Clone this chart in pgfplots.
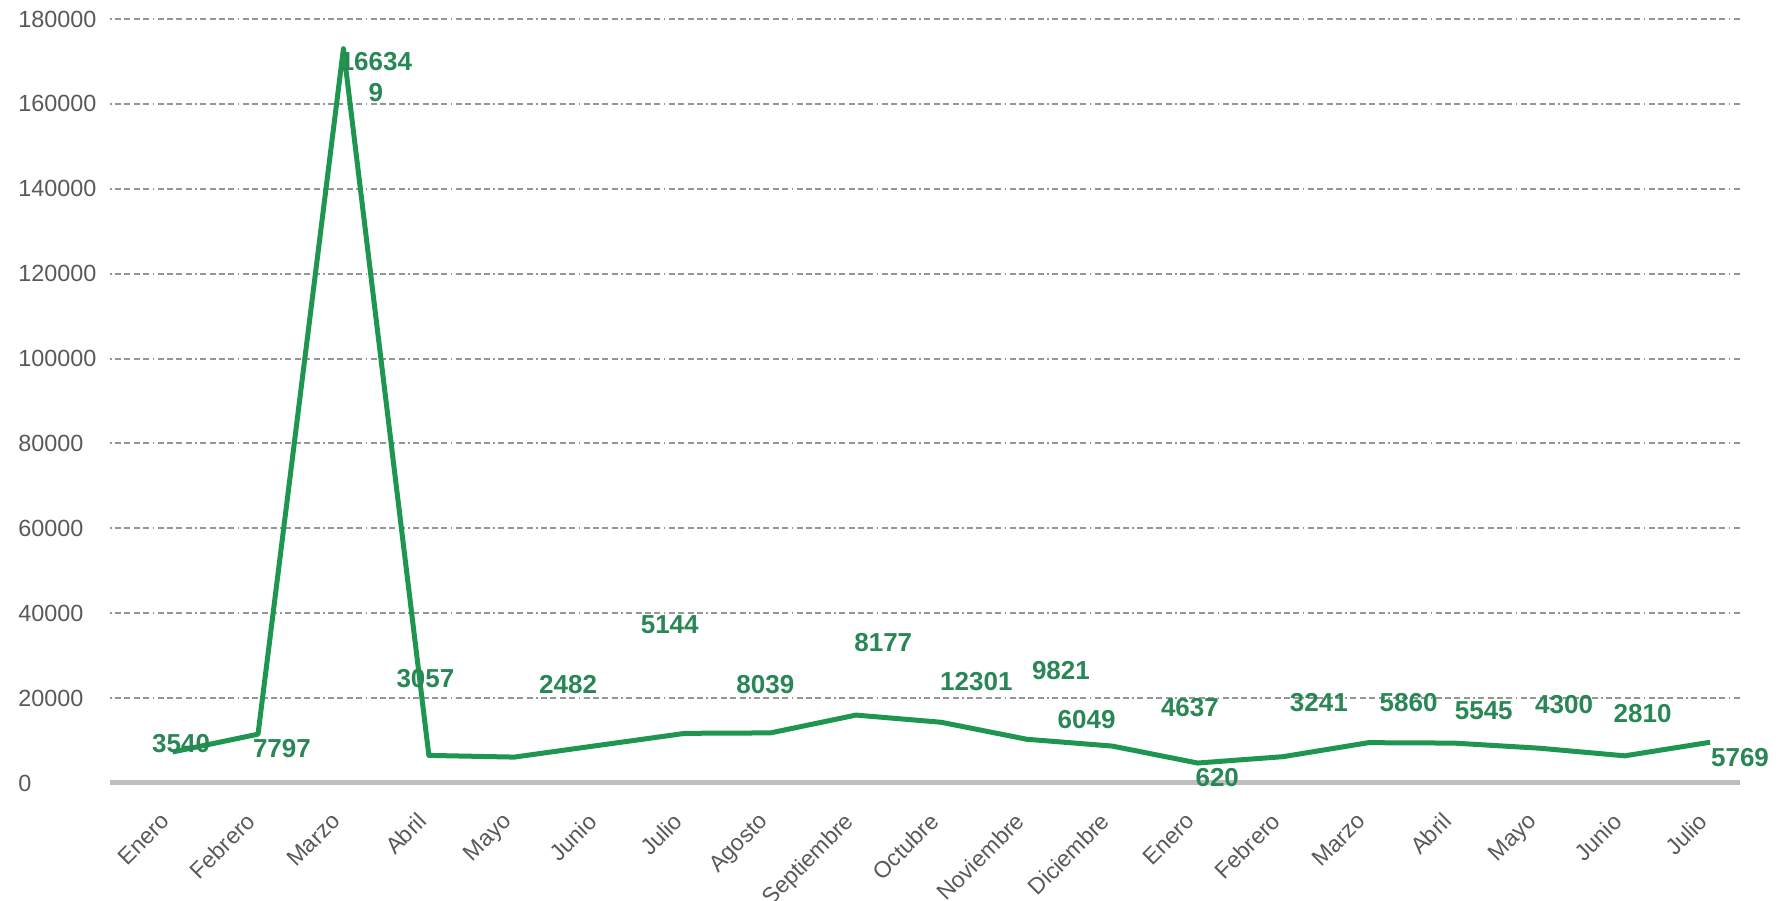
\documentclass[border=0pt]{standalone}
\usepackage{pgfplots}
\pgfplotsset{compat=1.18}
\usepackage{pgfplotstable}
\usepackage{fontspec}
\setmainfont{Liberation Sans}
\definecolor{linegreen}{RGB}{30,150,80}
\definecolor{labgreen}{RGB}{40,135,85}
\definecolor{ticktext}{RGB}{89,89,89}
\definecolor{gridgray}{RGB}{150,150,150}
\definecolor{axisgray}{RGB}{190,190,190}

\pgfplotstableread{
x y
0 7300
1 11500
2 173000
3 6500
4 6100
5 8900
6 11700
7 11800
8 16000
9 14300
10 10300
11 8700
12 4700
13 6200
14 9500
15 9400
16 8200
17 6400
18 9600
}\linedata

\pgfplotstableread{
x y lab
0.10 9400 3540
1.28 8000 7797
2.38 170000 16634
2.38 162700 9
2.96 24500 3057
4.63 23100 2482
5.82 37250 5144
6.94 23100 8039
8.32 33000 8177
9.41 23800 12301
10.40 26600 9821
10.70 14900 6049
11.91 17700 4637
12.23 1200 620
13.42 18900 3241
14.47 18900 5860
15.35 17000 5545
16.29 18400 4300
17.21 16300 2810
18.35 5900 5769
}\labdata

\begin{document}
\begin{tikzpicture}
\begin{axis}[
  name=ax,
  scale only axis,
  width=815pt, height=382pt,
  xmin=-0.733, xmax=18.35,
  ymin=0, ymax=180000,
  clip=false,
  axis x line*=bottom,
  axis y line*=left,
  y axis line style={draw=none},
  x axis line style={draw=axisgray, line width=2.5pt},
  major tick length=0pt,
  xtick={0,...,18},
  xticklabels={Enero,Febrero,Marzo,Abril,Mayo,Junio,Julio,Agosto,Septiembre,Octubre,Noviembre,Diciembre,Enero,Febrero,Marzo,Abril,Mayo,Junio,Julio},
  xticklabel style={xshift=-6.5pt, yshift=-14pt, rotate=45, anchor=north east, inner sep=0pt, font=\fontsize{11.5}{13}\selectfont, text=ticktext},
  ytick={0,20000,...,180000},
  scaled y ticks=false,
  yticklabel style={anchor=west, inner sep=0pt, xshift=-46pt, font=\fontsize{11.7}{13}\selectfont, text=ticktext,
    /pgf/number format/.cd, fixed, 1000 sep={}, assume math mode=true},
  ymajorgrids,
  grid style={draw=gridgray, line width=1pt, dash pattern=on 0.8pt off 1.7pt on 3pt off 1.7pt on 3pt off 1.7pt on 3pt off 1.7pt on 3pt off 1.7pt},
]
\addplot[linegreen, line width=2.5pt, mark=none, line join=round] table[x=x, y=y] {\linedata};
\addplot[draw=none, mark=none, nodes near coords, point meta=explicit symbolic,
  every node near coord/.style={anchor=center, inner sep=0pt, text=labgreen, font=\fontsize{13}{14}\selectfont\bfseries}]
  table[x=x, y=y, meta=lab] {\labdata};
\end{axis}
\pgfresetboundingbox
\path ([xshift=-55pt,yshift=-59pt]ax.south west) rectangle ([xshift=20pt,yshift=9.5pt]ax.north east);
\end{tikzpicture}
\end{document}
